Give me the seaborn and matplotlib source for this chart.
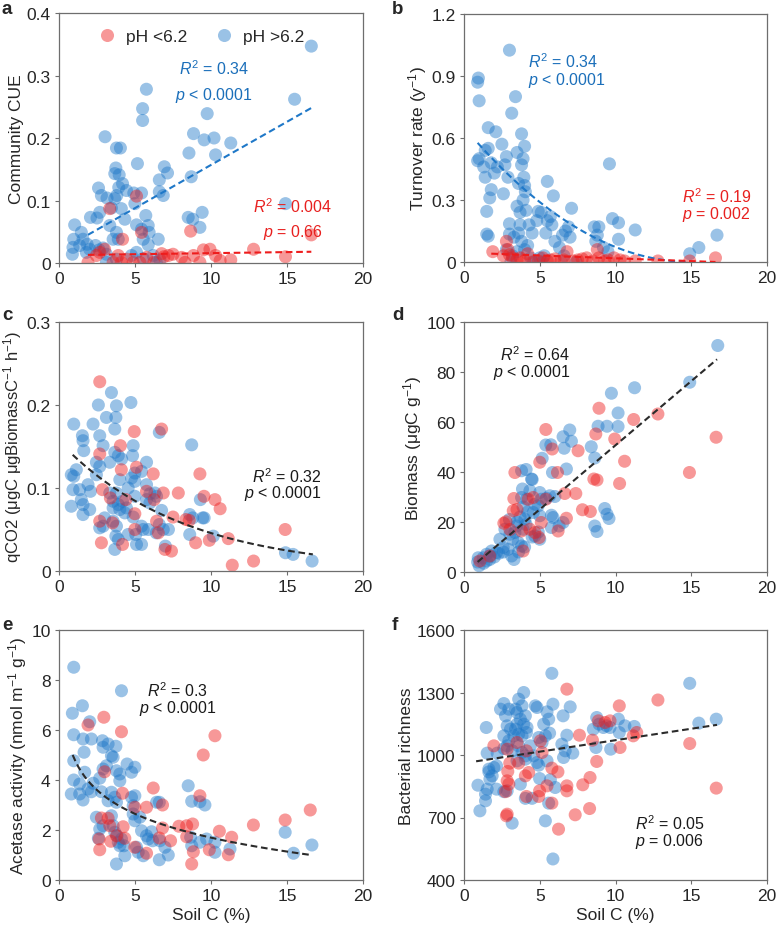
import numpy as np
import pandas as pd
import matplotlib
matplotlib.use("Agg")
import matplotlib.pyplot as plt
from matplotlib.lines import Line2D
import seaborn as sns

# ---------------- data ----------------
# Panel a: Community CUE
a_blue_x = [16.6, 15.5, 14.9, 5.75, 5.5, 5.5, 9.75, 8.85, 8.55, 9.55, 10.2, 10.3, 11.3, 3.03, 3.78, 4.04,
            5.16, 6.93, 7.14, 6.6, 6.86, 6.6, 8.7, 8.5, 8.8, 9.42, 9.27, 3.74, 3.67, 3.96, 4.18, 4.44,
            3.93, 2.6, 2.79, 3.16, 2.68, 2.07, 2.5, 3.45, 3.67, 3.8, 4.1, 4.33, 4.99, 4.92, 5.43, 3.34,
            3.78, 3.56, 3.9, 5.1, 5.43, 5.71, 5.87, 5.93, 5.54, 5.87, 6.53, 1.03, 0.97, 0.92, 0.88, 1.47,
            1.58, 1.85, 1.36, 2.02, 1.8, 2.4, 2.64, 3.12, 3.12, 3.78, 4.77, 5.1, 5.54, 6.2, 6.64, 6.4, 2.9]
a_blue_y = [0.347, 0.262, 0.095, 0.278, 0.247, 0.228, 0.239, 0.207, 0.176, 0.197, 0.2, 0.173, 0.192, 0.202,
            0.184, 0.184, 0.159, 0.154, 0.144, 0.133, 0.108, 0.114, 0.138, 0.073, 0.07, 0.081, 0.057, 0.152,
            0.143, 0.141, 0.127, 0.116, 0.121, 0.12, 0.108, 0.104, 0.081, 0.073, 0.072, 0.088, 0.103, 0.108,
            0.087, 0.07, 0.095, 0.112, 0.112, 0.06, 0.049, 0.038, 0.038, 0.061, 0.054, 0.076, 0.06, 0.049,
            0.038, 0.029, 0.038, 0.061, 0.038, 0.025, 0.014, 0.049, 0.038, 0.03, 0.028, 0.022, 0.017, 0.028,
            0.021, 0.014, 0.001, 0.006, 0.012, 0.017, 0.007, 0.012, 0.005, 0.001, 0.024]
a_red_x = [16.6, 14.9, 12.8, 11.3, 10.6, 10.3, 9.93, 9.5, 9.27, 8.85, 8.66, 8.29, 8.07, 7.5, 7.2, 6.75,
           6.24, 5.76, 5.43, 5.1, 4.88, 4.18, 4.1, 3.56, 3.34, 3.0, 2.68, 1.91, 2.46, 5.32, 4.44, 3.9, 6.9]
a_red_y = [0.045, 0.010, 0.022, 0.005, 0.004, 0.012, 0.022, 0.021, 0.001, 0.012, 0.051, 0.001, 0.009, 0.014,
           0.012, 0.015, 0.001, 0.009, 0.049, 0.107, 0.001, 0.038, 0.001, 0.001, 0.087, 0.022, 0.017, 0.001,
           0.012, 0.001, 0.006, 0.012, 0.01]

# Panel b: Turnover rate
b_blue_x = [0.9, 0.95, 1.0, 3.0, 3.4, 3.15, 3.8, 4.0, 3.5, 1.6, 2.1, 2.5, 1.6, 1.4, 1.0, 0.9, 1.3, 1.8,
            2.2, 2.7, 2.8, 3.9, 3.8, 1.4, 2.0, 2.9, 3.6, 3.95, 4.0, 4.05, 1.8, 1.7, 2.6, 3.9, 3.5, 3.7,
            4.1, 5.5, 5.9, 7.1, 9.6, 1.5, 1.5, 1.6, 3.0, 3.0, 3.3, 3.6, 3.7, 4.3, 4.5, 4.9, 5.1, 4.8,
            5.5, 5.7, 5.4, 5.8, 6.0, 6.3, 6.7, 6.9, 6.5, 7.0, 8.6, 8.9, 8.8, 8.7, 9.8, 10.2, 10.2, 11.3,
            9.2, 9.5, 14.9, 15.5, 16.7, 3.1, 3.5, 4.0, 4.2, 3.8, 5.0, 5.3, 5.2, 4.6, 2.8, 3.2, 4.4, 6.6, 7.4]
b_blue_y = [0.87, 0.89, 0.78, 1.025, 0.80, 0.72, 0.62, 0.56, 0.53, 0.65, 0.63, 0.57, 0.55, 0.54, 0.50, 0.49,
            0.46, 0.48, 0.46, 0.47, 0.51, 0.50, 0.47, 0.41, 0.43, 0.41, 0.38, 0.41, 0.37, 0.34, 0.35, 0.31,
            0.33, 0.30, 0.27, 0.24, 0.25, 0.39, 0.32, 0.26, 0.475, 0.245, 0.135, 0.125, 0.185, 0.135, 0.12,
            0.14, 0.18, 0.18, 0.14, 0.245, 0.24, 0.2, 0.2, 0.22, 0.14, 0.18, 0.10, 0.07, 0.15, 0.17, 0.13,
            0.12, 0.17, 0.17, 0.13, 0.10, 0.21, 0.19, 0.11, 0.155, 0.07, 0.05, 0.04, 0.07, 0.13, 0.0, 0.05,
            0.06, 0.08, 0.10, 0.02, 0.03, 0.0, 0.0, 0.06, 0.03, 0.02, 0.03, 0.0]
b_red_x = [16.6, 14.9, 12.8, 11.3, 10.6, 10.3, 9.9, 9.5, 9.3, 8.8, 8.9, 8.5, 8.1, 7.8, 7.5, 7.2, 6.8, 6.6,
           6.4, 6.0, 5.7, 5.5, 5.2, 4.9, 4.5, 4.2, 4.0, 3.7, 3.5, 3.2, 3.0, 2.9, 2.8, 1.9, 2.6]
b_red_y = [0.02, 0.005, 0.005, 0.005, 0.005, 0.01, 0.02, 0.01, 0.005, 0.06, 0.02, 0.005, 0.02, 0.015, 0.01,
           0.005, 0.05, 0.01, 0.005, 0.015, 0.01, 0.005, 0.02, 0.005, 0.0, 0.04, 0.005, 0.02, 0.01, 0.02,
           0.035, 0.06, 0.1, 0.05, 0.03]

# Panel c: qCO2
c_blue_x = [0.97, 1.54, 1.58, 1.63, 2.24, 2.59, 2.68, 2.9, 3.12, 3.45, 3.78, 3.74, 3.67, 4.73, 4.88, 4.84,
            3.67, 3.9, 4.12, 3.34, 2.46, 5.76, 5.43, 4.99, 4.77, 4.99, 4.0, 5.76, 2.68, 2.46, 1.14, 0.81,
            0.97, 0.92, 1.36, 1.91, 2.07, 1.47, 1.58, 0.81, 1.58, 2.02, 3.34, 3.78, 4.55, 3.56, 3.9, 4.0,
            4.18, 3.56, 4.33, 4.44, 4.99, 5.76, 5.98, 5.98, 6.31, 6.42, 6.75, 5.54, 5.43, 5.87, 6.6, 6.86,
            7.2, 6.4, 5.05, 5.1, 5.43, 4.55, 3.78, 3.56, 3.74, 3.9, 3.67, 2.68, 3.0, 2.9, 7.0, 4.88, 8.6,
            8.6, 8.8, 9.3, 9.45, 9.55, 8.73, 10.15, 14.9, 15.4, 16.65, 6.6]
c_blue_y = [0.177, 0.163, 0.157, 0.145, 0.177, 0.2, 0.163, 0.151, 0.185, 0.215, 0.199, 0.185, 0.171, 0.203,
            0.151, 0.139, 0.143, 0.139, 0.135, 0.131, 0.131, 0.131, 0.12, 0.118, 0.112, 0.108, 0.11, 0.104,
            0.126, 0.116, 0.122, 0.116, 0.114, 0.098, 0.098, 0.104, 0.096, 0.086, 0.08, 0.078, 0.068, 0.074,
            0.094, 0.094, 0.1, 0.084, 0.08, 0.074, 0.084, 0.076, 0.07, 0.076, 0.09, 0.086, 0.082, 0.093,
            0.094, 0.09, 0.073, 0.05, 0.054, 0.05, 0.056, 0.05, 0.05, 0.046, 0.044, 0.032, 0.032, 0.044,
            0.054, 0.06, 0.042, 0.038, 0.026, 0.052, 0.064, 0.054, 0.03, 0.065, 0.044, 0.068, 0.064, 0.086,
            0.064, 0.064, 0.152, 0.042, 0.022, 0.02, 0.012, 0.167]
c_red_x = [2.68, 6.75, 4.95, 4.04, 4.1, 2.68, 5.1, 6.2, 9.27, 2.86, 3.38, 4.4, 5.76, 6.26, 6.86, 7.85, 9.54,
           10.26, 10.6, 4.99, 7.5, 8.35, 8.57, 4.99, 3.52, 2.68, 2.79, 4.18, 6.53, 6.97, 7.4, 8.99, 9.89,
           11.14, 14.88, 11.4, 12.8, 6.42]
c_red_y = [0.228, 0.171, 0.168, 0.151, 0.122, 0.141, 0.125, 0.117, 0.117, 0.098, 0.088, 0.086, 0.096, 0.086,
           0.094, 0.094, 0.09, 0.086, 0.075, 0.069, 0.065, 0.062, 0.061, 0.05, 0.058, 0.06, 0.034, 0.032,
           0.046, 0.026, 0.024, 0.034, 0.037, 0.039, 0.05, 0.007, 0.012, 0.06]

# Panel d: Biomass
d_blue_x = [16.75, 14.9, 11.26, 9.73, 10.17, 10.17, 9.44, 8.85, 8.4, 8.63, 6.98, 6.54, 6.61, 7.09, 5.4, 5.73,
            5.16, 5.84, 6.76, 4.1, 3.8, 4.5, 8.63, 8.78, 9.29, 9.44, 9.57, 6.0, 5.66, 5.44, 5.0, 5.1, 4.68,
            4.9, 4.57, 4.13, 3.86, 3.8, 4.35, 4.46, 5.77, 5.88, 5.0, 6.54, 6.28, 5.77, 4.9, 5.0, 4.68, 4.02,
            3.9, 3.47, 3.36, 3.2, 3.58, 3.8, 3.03, 2.7, 2.37, 2.92, 3.14, 2.59, 2.15, 1.82, 1.71, 1.49, 1.27,
            1.49, 0.94, 0.9, 1.0, 1.3, 1.7, 2.0, 2.3, 2.6, 3.3, 3.6, 4.0, 4.5, 3.5, 3.0, 3.9, 4.2, 3.7, 4.1]
d_blue_y = [90.6, 75.9, 73.7, 71.5, 63.6, 58.2, 58.3, 58.3, 50.1, 45.6, 56.8, 54.1, 49.5, 52.3, 50.8, 50.9,
            45.5, 39.8, 41.2, 41.0, 40.5, 37.0, 18.4, 16.2, 25.4, 23.1, 21.4, 30.2, 30.5, 29.5, 31.8, 29.1,
            27.1, 26.5, 23.8, 29.1, 33.2, 29.8, 32.5, 37.2, 22.7, 21.8, 22.5, 19.8, 18.4, 17.8, 16.0, 13.1,
            14.4, 21.1, 17.1, 18.4, 15.8, 13.1, 11.8, 10.4, 15.1, 17.1, 13.1, 9.1, 6.4, 9.8, 7.8, 8.4, 6.4,
            7.1, 5.7, 4.4, 5.7, 4.0, 2.5, 3.5, 5.0, 6.0, 7.5, 8.0, 5.0, 8.0, 10.0, 14.0, 20.0, 21.0, 26.0,
            24.0, 22.0, 19.0]
d_red_x = [16.64, 14.88, 12.8, 11.2, 10.6, 10.27, 9.95, 8.91, 8.7, 8.57, 8.78, 7.53, 7.38, 7.82, 8.34, 6.65,
           6.76, 6.21, 5.82, 5.4, 5.0, 5.4, 6.17, 5.1, 4.96, 3.36, 3.29, 3.25, 2.77, 2.63, 3.9, 3.5, 4.24,
           4.57, 4.68, 4.35, 1.7, 1.05, 3.03, 3.8]
d_red_y = [53.9, 39.8, 63.2, 61.0, 44.3, 35.4, 53.2, 65.5, 55.2, 37.2, 36.8, 48.5, 31.4, 24.9, 24.2, 31.4,
           21.5, 16.4, 49.2, 57.0, 43.9, 29.1, 39.8, 19.8, 13.8, 39.8, 29.4, 24.5, 20.1, 19.5, 8.4, 25.0,
           29.1, 29.8, 15.8, 17.1, 6.4, 4.4, 17.0, 16.4]

# Panel e: Acetase activity
e_blue_x = [0.97, 4.11, 0.88, 1.54, 2.02, 0.97, 1.58, 2.13, 2.86, 2.9, 3.23, 3.74, 3.45, 3.56, 3.12, 2.9, 0.97,
            1.65, 4.48, 4.99, 4.77, 3.78, 4.0, 4.0, 0.97, 1.36, 1.69, 2.24, 2.68, 0.81, 1.36, 1.58, 1.91,
            2.13, 2.79, 3.45, 3.23, 3.67, 3.78, 4.77, 4.99, 4.88, 6.42, 6.6, 8.5, 8.73, 9.27, 9.6, 2.46,
            2.68, 2.9, 2.59, 3.45, 3.56, 3.67, 3.82, 3.9, 4.11, 4.0, 4.27, 3.78, 4.33, 4.88, 4.99, 5.32,
            5.43, 5.76, 5.87, 5.1, 5.21, 5.54, 6.09, 6.16, 6.64, 6.6, 6.97, 7.19, 8.66, 8.73, 9.27, 9.71,
            10.26, 10.26, 11.25, 14.88, 15.43, 16.64]
e_blue_y = [8.51, 7.57, 6.67, 6.97, 6.33, 5.81, 5.64, 5.64, 5.57, 5.31, 5.44, 5.35, 4.97, 4.91, 4.57, 4.44,
            4.77, 5.11, 4.64, 4.51, 4.31, 4.37, 4.24, 3.97, 4.0, 3.84, 4.31, 3.87, 4.07, 3.44, 3.44, 3.2,
            3.64, 3.53, 3.53, 3.51, 3.17, 3.31, 3.11, 3.31, 3.37, 2.97, 3.11, 3.11, 3.77, 3.15, 3.13, 3.0,
            2.51, 2.04, 2.17, 1.67, 2.57, 2.17, 1.91, 1.77, 1.51, 1.64, 1.37, 1.37, 0.64, 0.97, 2.64, 2.37,
            2.51, 1.97, 1.77, 1.64, 1.31, 1.11, 0.97, 1.93, 1.57, 1.57, 0.81, 1.31, 1.0, 1.71, 1.37, 1.51,
            1.64, 1.51, 1.11, 1.24, 1.91, 1.07, 1.4]
e_red_x = [2.95, 4.11, 1.91, 10.26, 9.49, 3.0, 4.18, 6.2, 9.27, 6.81, 5.76, 4.99, 2.79, 3.23, 4.22, 6.81,
           7.89, 8.4, 8.79, 10.55, 12.79, 14.88, 16.53, 11.36, 8.4, 7.34, 6.6, 4.33, 2.64, 3.41, 2.68, 5.76,
           4.99, 8.84, 9.89, 11.14, 8.73, 3.34, 3.78]
e_red_y = [6.51, 5.93, 6.2, 5.77, 5.0, 4.33, 3.47, 3.68, 3.37, 3.0, 2.91, 2.91, 2.48, 2.47, 2.13, 2.08, 2.15,
           2.17, 2.24, 1.95, 2.2, 2.4, 2.8, 1.71, 1.73, 1.57, 1.68, 1.67, 1.64, 1.55, 1.21, 1.07, 1.31, 1.13,
           1.21, 1.01, 0.64, 2.17, 1.77]

# Panel f: Bacterial richness
f_blue_x = [5.8, 14.9, 16.65, 15.5, 10.19, 10.25, 10.62, 11.24, 8.76, 8.71, 9.68, 9.64, 9.2, 8.92, 8.54, 9.42,
            7.01, 6.54, 6.79, 7.18, 6.57, 6.68, 6.46, 5.87, 5.48, 5.59, 5.26, 5.65, 5.37, 5.15, 4.93, 4.71,
            4.82, 3.94, 3.61, 3.83, 3.4, 3.5, 4.05, 3.72, 3.94, 3.5, 3.4, 3.61, 3.83, 4.12, 4.16, 3.29, 3.07,
            2.85, 2.74, 2.63, 2.41, 2.96, 2.96, 2.63, 2.63, 2.85, 3.18, 3.61, 3.83, 4.05, 3.5, 3.72, 4.05,
            4.38, 4.6, 4.82, 4.93, 4.99, 5.48, 6.02, 5.7, 5.37, 5.59, 5.87, 4.05, 4.49, 3.18, 2.85, 2.63,
            2.19, 2.15, 1.97, 1.47, 1.53, 1.64, 1.64, 1.71, 1.53, 1.42, 1.42, 0.92, 1.05, 2.15, 1.86]
f_blue_y = [1392, 1344, 1172, 1153, 1172, 1108, 1140, 1137, 1180, 1036, 1028, 1132, 1132, 1148, 1124, 1140,
            1231, 1188, 1095, 1009, 988, 1020, 1052, 1244, 1207, 1172, 1148, 1105, 1092, 1060, 1084, 1236,
            1228, 1300, 1268, 1236, 1220, 1204, 1188, 1172, 1148, 1148, 1124, 1100, 1092, 1108, 1132, 1092,
            1124, 1140, 1188, 1247, 1220, 1220, 1068, 1092, 1031, 1044, 1020, 1044, 1012, 996, 972, 860,
            980, 1044, 996, 964, 951, 887, 972, 844, 881, 684, 769, 501, 792, 792, 673, 828, 824, 1009, 948,
            940, 1132, 1009, 932, 919, 884, 836, 812, 780, 855, 732, 836, 900]
f_red_x = [6.79, 12.8, 10.25, 9.64, 9.31, 8.87, 10.3, 11.4, 11.17, 14.9, 16.65, 7.62, 8.48, 8.76, 8.32, 7.84,
           8.29, 7.34, 6.79, 6.79, 6.2, 5.8, 5.8, 5.48, 4.99, 4.93, 5.15, 5.04, 6.24, 4.12, 4.27, 4.05, 4.12,
           3.5, 3.61, 3.02, 2.89, 2.85, 2.96, 2.74, 2.85, 2.8, 1.97, 2.85]
f_red_y = [1316, 1264, 1236, 1164, 1156, 1164, 1036, 1108, 1092, 1055, 841, 1095, 1071, 969, 892, 857, 743,
           713, 852, 828, 919, 937, 769, 852, 828, 801, 1012, 1068, 644, 801, 916, 900, 1020, 1060, 961,
           961, 921, 876, 860, 824, 716, 708, 1044, 1028]

# fitted curves (coefficients) and their x spans
fit_a_blue = [0.01381, 0.0188]; span_a_blue = [1.9, 16.6]
fit_a_red = [0.00034, 0.01235]; span_a_red = [1.9, 16.6]
fit_b_blue = [0.0029, -0.087, 0.6525]; span_b_blue = [0.9, 14.8]
fit_b_red = [-0.00272, 0.0452]; span_b_red = [1.8, 16.6]
fit_c = [0.1564, -0.123]; span_c = [0.9, 16.7]          # a*exp(b*x)
fit_d = [5.13, -0.6]; span_d = [0.9, 16.7]
fit_e = [4.856, -1.373]; span_e = [0.9, 16.6]           # a + b*ln(x)
fit_f = [11.0, 961.0]; span_f = [0.8, 16.7]

group_labels = ["pH <6.2", "pH >6.2"]

# ---------------- style ----------------
sns.set_style("ticks")
plt.rcParams["font.family"] = ["Liberation Sans", "DejaVu Sans"]
plt.rcParams["mathtext.fontset"] = "custom"
plt.rcParams["mathtext.it"] = "Liberation Sans:italic"
plt.rcParams["mathtext.rm"] = "Liberation Sans"

BLUE = "#1f78c8"
RED = "#ee1c1c"
BLUE_TXT = "#1b6fba"
RED_TXT = "#e8201f"
SPINE = "#6e6e6e"
TICK_FS = 12.5
LAB_FS = 12.5
ANN_FS = 11.5

fig = plt.figure(figsize=(7.77, 9.28), dpi=100)
W, H = 777.0, 928.0


def make_ax(l, t, r, b):
    return fig.add_axes([l / W, 1 - b / H, (r - l) / W, (b - t) / H])


ax_a = make_ax(59, 14, 363, 264)
ax_b = make_ax(464, 15, 767, 263)
ax_c = make_ax(59, 323, 363, 572)
ax_d = make_ax(464, 323, 767, 573)
ax_e = make_ax(59, 631, 363, 881)
ax_f = make_ax(464, 631, 767, 881)


def scatter(ax, bx, by, rx, ry):
    df = pd.DataFrame({
        "x": list(bx) + list(rx),
        "y": list(by) + list(ry),
        "g": [group_labels[1]] * len(bx) + [group_labels[0]] * len(rx),
    })
    sns.scatterplot(data=df, x="x", y="y", hue="g", ax=ax, s=88, alpha=0.45,
                    palette={group_labels[1]: BLUE, group_labels[0]: RED},
                    linewidth=0, legend=False, zorder=2)


def fitline(ax, xs, ys, color):
    sns.lineplot(x=xs, y=ys, ax=ax, color=color, linestyle=(0, (3.2, 1.8)), lw=1.5, zorder=3)


def style(ax, ylim, yticks, yticklabels, ylabel, xlabel=None, yfs=LAB_FS):
    ax.set_xlim(0, 20)
    ax.set_ylim(*ylim)
    ax.set_xticks([0, 5, 10, 15, 20])
    ax.set_xticklabels(["0", "5", "10", "15", "20"])
    ax.set_yticks(yticks)
    ax.set_yticklabels(yticklabels)
    ax.set_ylabel(ylabel, fontsize=yfs, labelpad=2)
    ax.set_xlabel(xlabel if xlabel else "", fontsize=LAB_FS, labelpad=3)
    for sp in ax.spines.values():
        sp.set_visible(True)
        sp.set_color(SPINE)
        sp.set_linewidth(0.9)
    ax.tick_params(direction="out", length=3, width=0.8, color=SPINE, labelsize=TICK_FS, pad=3)


def lin(span, coef, n=60):
    xs = np.linspace(span[0], span[1], n)
    return xs, np.polyval(coef, xs)


# ---- a ----
scatter(ax_a, a_blue_x, a_blue_y, a_red_x, a_red_y)
fitline(ax_a, *lin(span_a_blue, fit_a_blue), BLUE)
fitline(ax_a, *lin(span_a_red, fit_a_red), RED)
style(ax_a, (0, 0.4), [0, 0.1, 0.2, 0.3, 0.4], ["0", "0.1", "0.2", "0.3", "0.4"], "Community CUE")
ax_a.text(10.2, 0.312, r"$R^2$ = 0.34", color=BLUE_TXT, fontsize=ANN_FS, ha="center", va="center")
ax_a.text(10.2, 0.270, r"$p$ < 0.0001", color=BLUE_TXT, fontsize=ANN_FS, ha="center", va="center")
ax_a.text(15.4, 0.092, r"$R^2$ = 0.004", color=RED_TXT, fontsize=ANN_FS, ha="center", va="center")
ax_a.text(15.4, 0.050, r"$p$ = 0.66", color=RED_TXT, fontsize=ANN_FS, ha="center", va="center")
handles = [Line2D([], [], marker="o", ls="", markersize=9.4, markerfacecolor=RED, markeredgewidth=0, alpha=0.45),
           Line2D([], [], marker="o", ls="", markersize=9.4, markerfacecolor=BLUE, markeredgewidth=0, alpha=0.45)]
ax_a.legend(handles, group_labels, loc="upper left", ncol=2, frameon=False, fontsize=TICK_FS,
            bbox_to_anchor=(0.06, 0.985), handletextpad=0.1, columnspacing=1.1, borderaxespad=0.3)

# ---- b ----
scatter(ax_b, b_blue_x, b_blue_y, b_red_x, b_red_y)
fitline(ax_b, *lin(span_b_blue, fit_b_blue), BLUE)
fitline(ax_b, *lin(span_b_red, fit_b_red), RED)
style(ax_b, (0, 1.2), [0, 0.3, 0.6, 0.9, 1.2], ["0", "0.3", "0.6", "0.9", "1.2"], r"Turnover rate (y$^{-1}$)")
ax_b.text(4.2, 0.975, r"$R^2$ = 0.34", color=BLUE_TXT, fontsize=ANN_FS, ha="left", va="center")
ax_b.text(4.2, 0.885, r"$p$ < 0.0001", color=BLUE_TXT, fontsize=ANN_FS, ha="left", va="center")
ax_b.text(14.4, 0.32, r"$R^2$ = 0.19", color=RED_TXT, fontsize=ANN_FS, ha="left", va="center")
ax_b.text(14.4, 0.235, r"$p$ = 0.002", color=RED_TXT, fontsize=ANN_FS, ha="left", va="center")

# ---- c ----
scatter(ax_c, c_blue_x, c_blue_y, c_red_x, c_red_y)
xs = np.linspace(span_c[0], span_c[1], 80)
fitline(ax_c, xs, fit_c[0] * np.exp(fit_c[1] * xs), "#2b2b2b")
style(ax_c, (0, 0.3), [0, 0.1, 0.2, 0.3], ["0", "0.1", "0.2", "0.3"],
      "qCO2 (μgC μgBiomassC$^{-1}$ h$^{-1}$)", yfs=12)
ax_c.text(17.3, 0.115, r"$R^2$ = 0.32", color="#1a1a1a", fontsize=ANN_FS, ha="right", va="center")
ax_c.text(17.3, 0.094, r"$p$ < 0.0001", color="#1a1a1a", fontsize=ANN_FS, ha="right", va="center")

# ---- d ----
scatter(ax_d, d_blue_x, d_blue_y, d_red_x, d_red_y)
fitline(ax_d, *lin(span_d, fit_d), "#2b2b2b")
style(ax_d, (0, 100), [0, 20, 40, 60, 80, 100], ["0", "20", "40", "60", "80", "100"],
      "Biomass (μgC g$^{-1}$)")
ax_d.text(7.05, 87.5, r"$R^2$ = 0.64", color="#1a1a1a", fontsize=ANN_FS, ha="right", va="center")
ax_d.text(7.05, 80.0, r"$p$ < 0.0001", color="#1a1a1a", fontsize=ANN_FS, ha="right", va="center")

# ---- e ----
scatter(ax_e, e_blue_x, e_blue_y, e_red_x, e_red_y)
xs = np.linspace(span_e[0], span_e[1], 80)
fitline(ax_e, xs, fit_e[0] + fit_e[1] * np.log(xs), "#2b2b2b")
style(ax_e, (0, 10), [0, 2, 4, 6, 8, 10], ["0", "2", "4", "6", "8", "10"],
      "Acetase activity (nmol m$^{-1}$ g$^{-1}$)", "Soil C (%)")
ax_e.text(7.8, 7.6, r"$R^2$ = 0.3", color="#1a1a1a", fontsize=ANN_FS, ha="center", va="center")
ax_e.text(7.8, 6.9, r"$p$ < 0.0001", color="#1a1a1a", fontsize=ANN_FS, ha="center", va="center")

# ---- f ----
scatter(ax_f, f_blue_x, f_blue_y, f_red_x, f_red_y)
fitline(ax_f, *lin(span_f, fit_f), "#2b2b2b")
style(ax_f, (400, 1600), [400, 700, 1000, 1300, 1600], ["400", "700", "1000", "1300", "1600"],
      "Bacterial richness", "Soil C (%)")
ax_f.text(11.3, 673, r"$R^2$ = 0.05", color="#1a1a1a", fontsize=ANN_FS, ha="left", va="center")
ax_f.text(11.3, 590, r"$p$ = 0.006", color="#1a1a1a", fontsize=ANN_FS, ha="left", va="center")

# panel letters
for lab, (px, py) in zip("abcdef", [(2, 10), (392, 10), (2, 316), (392, 316), (2, 626), (392, 626)]):
    fig.text(px / W, 1 - py / H, lab, fontsize=13.5, fontweight="bold", ha="left", va="center")

fig.savefig("out.png", dpi=100)
